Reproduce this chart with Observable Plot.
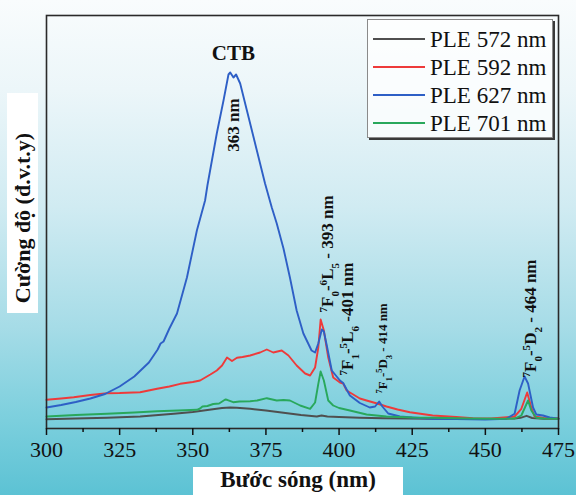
<!DOCTYPE html>
<html><head><meta charset="utf-8">
<script src="https://cdn.jsdelivr.net/npm/d3@7"></script>
<script src="https://cdn.jsdelivr.net/npm/@observablehq/plot@0.6"></script>
<style>
html,body{margin:0;padding:0;}
body{width:576px;height:495px;overflow:hidden;
  background:linear-gradient(to bottom,#f9fcfd 0%,#ecf6f9 18%,#d0ebf2 42%,#a6dce7 66%,#7bcfdd 85%,#5cc2d4 100%);}
#wrap{position:relative;width:576px;height:495px;}
#chart svg{position:absolute;left:0;top:0;}
#ylab{position:absolute;left:7px;top:93px;width:31px;height:220px;background:#fff;}
#ylab span{position:absolute;left:50%;top:57%;transform:translate(-50%,-50%) rotate(-90deg);white-space:nowrap;
  font:bold 22px 'Liberation Serif','Times New Roman',serif;color:#111;}
#xlab{position:absolute;left:193px;top:467px;width:210px;height:28px;background:#fff;
  font:bold 23px 'Liberation Serif','Times New Roman',serif;color:#111;text-align:center;line-height:25px;}
#legend{position:absolute;left:367px;top:19px;width:184px;height:117px;background:rgba(255,255,255,0.72);
  border:1px solid #8a8a8a;box-shadow:2px 2px 0 #3a3a3a;}
#legend .row{position:absolute;left:0;height:24px;width:184px;}
#legend .sw{position:absolute;left:5px;top:11px;width:52px;height:2px;}
#legend .lb{position:absolute;left:62px;top:0;line-height:24px;font:23px 'Liberation Serif','Times New Roman',serif;color:#111;white-space:nowrap;}
</style></head><body>
<div id="wrap">
  <div id="chart"></div>
  <div id="ylab"><span>Cường độ (đ.v.t.y)</span></div>
  <div id="xlab">Bước sóng (nm)</div>
  <div id="legend"></div>
</div>
<script>
// ---- series names & colours ----
const seriesNames = ["PLE 572 nm", "PLE 592 nm", "PLE 627 nm", "PLE 701 nm"];
const seriesColors = ["#4f4f4f", "#ee3a3a", "#2e5fc6", "#29a85c"];

// ---- PLE 572 nm (grey) ----
const ple572_nm = [300,310,320.7,332,343.5,350,355,360,362.8,365,369.6,375,381,387,392.4,394,396,400,407,415,432,450,460,462,464.1,466,470,475];
const ple572_I  = [9.3,10,10.7,12,14.7,16.5,18.5,20.5,21,20.7,19.7,18,15.7,13.5,12,13,12,11.5,10.7,10.2,9.7,9.5,10,10.7,12.7,10.5,9.8,9.7];

// ---- PLE 592 nm (red) ----
const ple592_nm = [300,305,309.3,315,320.7,325,332,337.8,342,345.7,350,352.5,356,358.2,360,361.7,363.4,365.1,367,369.6,373,375.3,377.5,380.4,382.7,385.5,388.4,390.1,391.8,392.9,393.7,394.8,396.3,398,400.3,401.4,402.6,403.7,407.1,409.4,413,416.2,420,424.2,432,440,445.7,452,460,462.3,464.3,465.7,466.8,470,475];
const ple592_I  = [28.7,30,31.3,33.5,35.3,35.5,36.3,39.7,42,44.7,46.5,48,54,58,63,71,67.5,70.7,71.5,73,76,79,76,78,73,63,55,53,61,81,109,98,71,51,46,45,38,36,30,28,25,22,19,16.3,13,11.5,10.3,10,12,19.7,36,21,12,10.5,10];

// ---- PLE 627 nm (blue) ----
const ple627_nm = [300,305,310,315,320,325,330,335,338,339,340,342,344.6,348,351.4,354.2,355,358.2,360.5,362.2,362.8,363.9,364.8,366.2,368.5,371.9,374.7,377,378.7,381,383.2,385.5,387.8,390.6,391.8,392.9,394.1,394.8,395.8,397.5,400.3,401.4,403.7,407.1,410.5,412.3,413.7,414.8,416.8,420.8,425,432,440,450,457.2,460,461.7,463.4,464.6,466.3,467.4,469.7,472,475];
const ple627_I  = [21,23.5,26.5,30,34.5,42,52,66,79,85,87,100,115,151,198,228,243,295,328,354,356,351,354,345,318,278,245,221,205,180,151,118,95,78,76,85,99,97,83,58,48,45.5,33,25.5,21,22,27,22,15,12,11,9.7,9.5,9,9.7,14.7,38,52,45,21,14,13,11,9.7];

// ---- PLE 701 nm (green) ----
const ple701_nm = [300,310,320.7,330,337.8,345,351.4,352.5,353.3,355,357,359,361.1,361.7,363.8,366,369.6,372,375.3,378.7,381,383.2,386.7,390.1,391.8,392.9,393.7,394.8,396.3,398,400,403.7,409.4,416.2,425,432,445,455,460,462.3,464.6,465.7,467.4,470,475];
const ple701_I  = [12,13.5,14.7,16,17.3,18,18.7,20,22,22.5,24.5,25,29,28.7,26.3,27,27.3,28,30.3,28,28.5,28,23,19.7,26,44.7,57,48,28,23,20.5,18,14,12,11,10.7,10,9.7,10,13,28,18,10.7,10,9.7];

// ---- axis ticks ----
const majorTicks = [300,325,350,375,400,425,450,475];
const minorTicks = [312.5,337.5,362.5,387.5,412.5,437.5,462.5];

// ---- annotations (text, wavelength, intensity) ----
const annoText = ["CTB", "363 nm", "^7F_0-^6L_5 - 393 nm", "^7F_1-^5L_6 -401 nm", "^7F_1-^5D_3 - 414 nm", "^7F_0-^5D_2 - 464 nm"];
const annoNm   = [363.9, 363.9, 396.0, 402.9, 414.8, 465.4];
const annoI    = [375, 303.5, 116, 53, 35, 51];

const seriesX = [ple572_nm, ple592_nm, ple627_nm, ple701_nm];
const seriesY = [ple572_I, ple592_I, ple627_I, ple701_I];
const rows = [];
seriesNames.forEach((s, k) => seriesX[k].forEach((x, i) => rows.push({series: s, nm: x, I: seriesY[k][i]})));
const annos = annoText.map((t, i) => ({t, nm: annoNm[i], I: annoI[i]}));

const serif = "'Liberation Serif','Times New Roman',serif";
const plot = Plot.plot({
  width: 576, height: 495,
  marginTop: 15, marginBottom: 67, marginLeft: 46, marginRight: 18,
  style: {background: "transparent", fontFamily: serif, color: "#111", overflow: "visible"},
  x: {domain: [300, 475]},
  y: {domain: [0, 413], axis: null},
  color: {domain: seriesNames, range: seriesColors},
  marks: [
    Plot.line(rows, {x: "nm", y: "I", z: "series", stroke: "series", strokeWidth: 1.9}),
    Plot.frame({stroke: "#2a2a2a", strokeWidth: 1.6}),
    Plot.axisX({ticks: majorTicks, tickSize: 7, tickPadding: 6, fontSize: 22, tickFormat: d => String(d), label: null, strokeWidth: 1.5}),
    Plot.axisX({ticks: minorTicks, tickSize: 4, tickFormat: () => "", label: null, strokeWidth: 1.5}),
    Plot.text(annos.slice(0, 1), {x: "nm", y: "I", text: "t", fontSize: 21, fontWeight: "bold", fill: "#111"}),
    Plot.text(annos.slice(1, 2), {x: "nm", y: "I", text: "t", fontSize: 17, fontWeight: "bold", rotate: -90, fill: "#111"}),
    Plot.text(annos.slice(2, 4), {x: "nm", y: "I", text: "t", fontSize: 17, fontWeight: "bold", rotate: -90, textAnchor: "start", fill: "#111"}),
    Plot.text(annos.slice(4, 5), {x: "nm", y: "I", text: "t", fontSize: 13, fontWeight: "bold", rotate: -90, textAnchor: "start", fill: "#111"}),
    Plot.text(annos.slice(5, 6), {x: "nm", y: "I", text: "t", fontSize: 17, fontWeight: "bold", rotate: -90, textAnchor: "start", fill: "#111"})
  ]
});
document.getElementById("chart").appendChild(plot);

// superscripts / subscripts in annotation labels
const NS = "http://www.w3.org/2000/svg";
d3.select(plot).selectAll("text").each(function () {
  const t = this.textContent;
  if (!/[\^_]\d/.test(t)) return;
  const parts = t.split(/([\^_]\d)/).filter(p => p);
  this.textContent = "";
  parts.forEach(p => {
    const ts = document.createElementNS(NS, "tspan");
    if (p[0] === "^" || p[0] === "_") {
      ts.textContent = p[1];
      ts.setAttribute("font-size", "65%");
      ts.setAttribute("baseline-shift", p[0] === "^" ? "super" : "sub");
    } else ts.textContent = p;
    this.appendChild(ts);
  });
});

// legend
const lg = document.getElementById("legend");
const rowTops = [7, 35, 63, 91];
seriesNames.forEach((s, i) => {
  const r = document.createElement("div");
  r.className = "row"; r.style.top = rowTops[i] + "px";
  const sw = document.createElement("span"); sw.className = "sw"; sw.style.background = seriesColors[i];
  const lb = document.createElement("span"); lb.className = "lb"; lb.textContent = s;
  r.appendChild(sw); r.appendChild(lb); lg.appendChild(r);
});
</script>
</body></html>
